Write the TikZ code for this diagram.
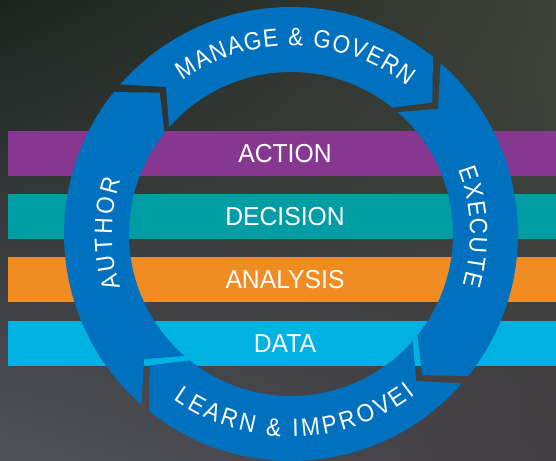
\documentclass[tikz,border=0pt]{standalone}
\usepackage{fontspec}
\setmainfont{Liberation Sans}
\newfontfamily\barfont[FakeStretch=0.95]{Liberation Sans}
\newfontfamily\ringfont[FakeStretch=0.9]{Liberation Sans}
\usetikzlibrary{shadings}

\definecolor{ringblue}{RGB}{0,113,190}
\definecolor{actionpurple}{RGB}{134,56,145}
\definecolor{decisionteal}{RGB}{0,157,165}
\definecolor{analysisorange}{RGB}{240,140,34}
\definecolor{datacyan}{RGB}{0,178,226}
\definecolor{bgTL}{RGB}{28,35,30}
\definecolor{bgTR}{RGB}{60,66,56}
\definecolor{bgBL}{RGB}{80,82,90}
\definecolor{bgBR}{RGB}{66,62,66}

\newcommand\ringsize{\ringfont\fontsize{25}{25}\selectfont}

\tikzset{
  layerbar/.style={fill=#1, draw=none},
  barlabel/.style={text=white, font=\barfont\fontsize{26}{26}\selectfont, anchor=center, inner sep=0pt},
  ringband/.style={fill=ringblue, draw=none},
  ringchar/.style={text=white, font=\ringsize, inner sep=0pt, anchor=center,
    text height=17.9pt, text depth=0pt},
}

% radii of the cycle ring and the angular length of each arrow point
\def\Rin{162}
\def\Rout{227}
\def\Rmid{193}
\def\tipdelta{8.4}

% one arrow of the ring: #1 = tail angle, #2 = head angle (clockwise)
\newcommand\ringsegment[2]{%
  \pgfmathsetmacro\tipangle{#2-\tipdelta}%
  \pgfmathsetmacro\notchangle{#1-\tipdelta}%
  \fill[ringband] ([shift={(C)}]#1:\Rout) arc[start angle=#1, end angle=#2, radius=\Rout]
    -- ([shift={(C)}]\tipangle:\Rmid) -- ([shift={(C)}]#2:\Rin)
    arc[start angle=#2, end angle=#1, radius=\Rin]
    -- ([shift={(C)}]\notchangle:\Rmid) -- cycle;
}

% letters set one by one round the ring
% #1 radius of the letter middles, #2 start angle, #3 -1 clockwise / 1 counter-clockwise,
% #4 extra letter spacing, #5 letters
% (the ring font is the 10pt main family at 25pt, narrowed to 0.9: factor 2.25)
\makeatletter
\newcommand\arclabel[5]{%
  \gdef\curang{#2}%
  \@for\ch:=#5\do{%
    \pgfmathsetmacro\chw{2.25*width("\ch")}%
    \pgfmathsetmacro\midang{\curang + #3*(\chw/2)/#1*180/pi}%
    \pgfmathsetmacro\rot{\midang + #3*90}%
    \node[ringchar, rotate=\rot] at ([shift={(C)}]\midang:#1) {\ch};
    \pgfmathsetmacro\nextang{\curang + #3*(\chw+#4)/#1*180/pi}%
    \global\let\curang\nextang
  }%
}
\makeatother

\begin{document}
\begin{tikzpicture}[x=1pt, y=1pt]
  % backdrop
  \shade[upper left=bgTL, upper right=bgTR, lower left=bgBL, lower right=bgBR]
    (0,0) rectangle (556,460);
  \useasboundingbox (0,0) rectangle (556,460);

  % the four layers
  \fill[layerbar=actionpurple]   (8,284) rectangle (556,329);
  \fill[layerbar=decisionteal]   (8,221) rectangle (556,266);
  \fill[layerbar=analysisorange] (8,158) rectangle (556,203);
  \fill[layerbar=datacyan]       (8,94)  rectangle (556,139);

  \node[barlabel] (action)   at (285,306.5) {ACTION};
  \node[barlabel] (decision) at (285,243.5) {DECISION};
  \node[barlabel] (analysis) at (285,180.5) {ANALYSIS};
  \node[barlabel] (data)     at (285,116.5) {DATA};

  % the cycle ring
  \coordinate (C) at (291,226);
  \ringsegment{138.8}{51.3}
  \ringsegment{48.8}{-38.7}
  \ringsegment{-41.2}{-128.7}
  \ringsegment{-131.2}{-218.7}

  % ring captions
  \arclabel{197}{125.2}{-1}{2.1}{M,A,N,A,G,E,~,\&,~,G,O,V,E,R,N}
  \arclabel{188}{20.9}{-1}{2.7}{E,X,E,C,U,T,E}
  \arclabel{194}{-125.5}{1}{2.4}{L,E,A,R,N,~,\&,~,I,M,P,R,O,V,E,I}
  \arclabel{188}{197.3}{-1}{3.9}{A,U,T,H,O,R}
\end{tikzpicture}
\end{document}
